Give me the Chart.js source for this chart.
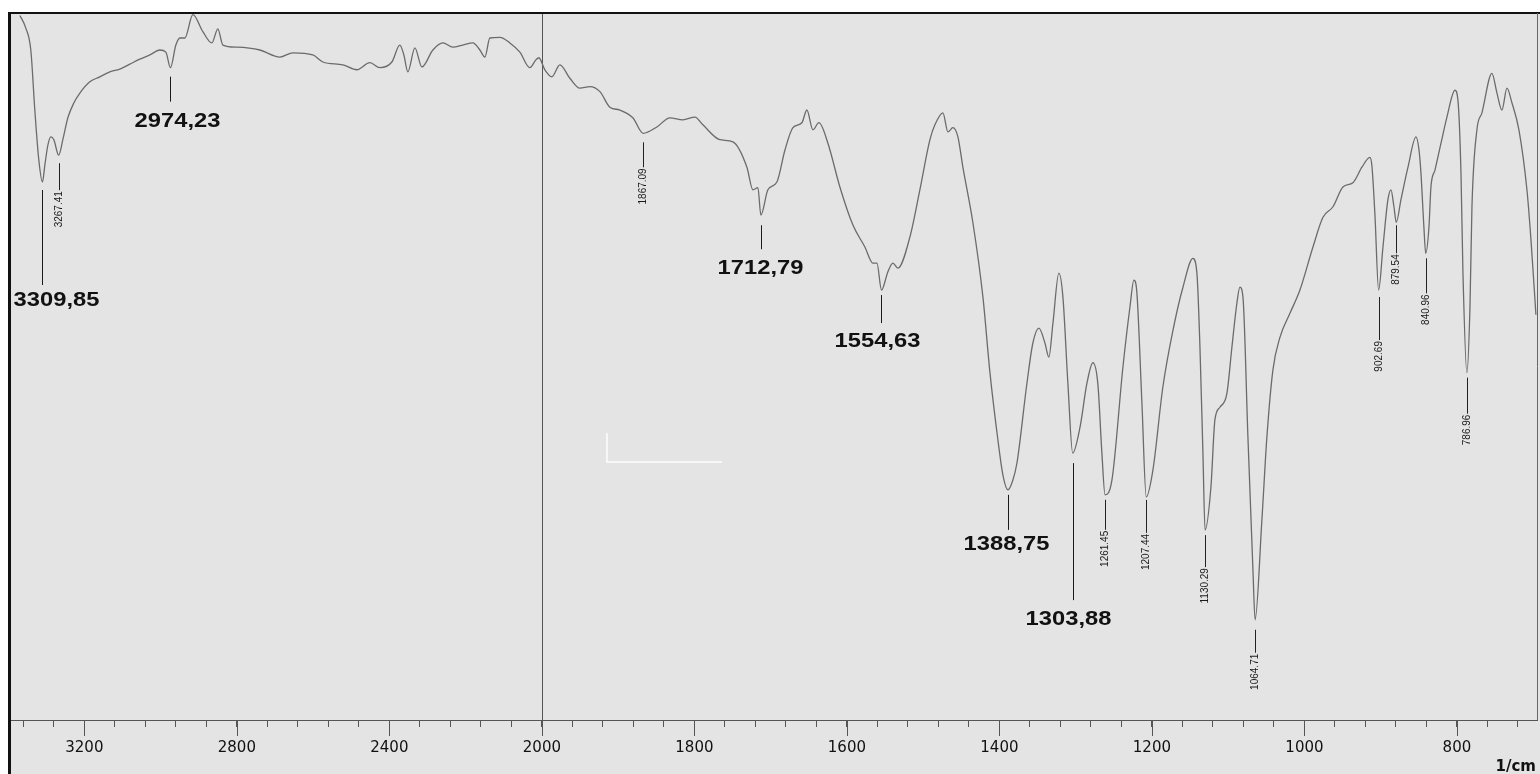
<!DOCTYPE html>
<html>
<head>
<meta charset="utf-8">
<script src="https://cdn.jsdelivr.net/npm/chart.js@4.4.1/dist/chart.umd.min.js"></script>
<style>
  html, body { margin: 0; padding: 0; background: #ffffff; }
  canvas { display: block; }
</style>
</head>
<body>
<canvas id="ir" width="1540" height="774"></canvas>
<script>
// FTIR transmittance spectrum (1/cm vs %T)
const wavenumbers = [
  3369.0, 3353.5, 3340.4, 3329.9, 3319.4, 3309.85, 3303.6, 3295.8, 3287.9, 3280.0,
  3267.41, 3256.4, 3243.3, 3227.6, 3211.8, 3185.6, 3159.4, 3133.1, 3106.9, 3080.7,
  3054.4, 3028.2, 3002.0, 2986.2, 2974.23, 2960.0, 2949.5, 2936.4, 2915.4, 2889.2,
  2865.6, 2849.9, 2836.7, 2800.0, 2739.7, 2687.2, 2653.1, 2600.7, 2574.4, 2522.0,
  2485.3, 2451.2, 2424.9, 2393.5, 2372.5, 2362.0, 2351.5, 2333.1, 2314.8, 2285.9,
  2259.7, 2233.4, 2207.2, 2181.0, 2162.6, 2149.5, 2136.4, 2110.2, 2083.9, 2057.7,
  2031.5, 2015.7, 2007.9, 1996.1, 1986.9, 1976.4, 1963.3, 1950.2, 1937.0, 1923.9,
  1910.8, 1897.7, 1880.7, 1867.09, 1849.2, 1832.1, 1815.1, 1799.3, 1788.8, 1766.6,
  1749.5, 1731.1, 1723.3, 1716.7, 1712.79, 1703.6, 1691.8, 1681.3, 1670.8, 1659.0,
  1652.5, 1644.6, 1636.7, 1624.9, 1609.2, 1592.1, 1576.4, 1565.9, 1560.6, 1554.63,
  1546.2, 1539.7, 1533.1, 1517.4, 1504.3, 1491.1, 1484.6, 1474.1, 1467.5, 1461.0,
  1454.4, 1447.9, 1434.7, 1421.6, 1412.4, 1402.0, 1395.4, 1388.75, 1382.3, 1377.0,
  1363.9, 1356.1, 1348.2, 1340.3, 1335.1, 1329.8, 1322.0, 1316.7, 1310.2, 1303.88,
  1294.4, 1285.2, 1277.4, 1270.8, 1265.6, 1261.45, 1252.4, 1238.0, 1228.8, 1223.6,
  1219.7, 1213.1, 1207.44, 1198.7, 1185.6, 1172.4, 1159.3, 1146.2, 1141.0, 1137.0,
  1133.1, 1130.29, 1122.6, 1117.4, 1110.8, 1101.6, 1095.1, 1088.5, 1084.6, 1080.6,
  1074.1, 1067.5, 1064.71, 1055.8, 1049.2, 1041.3, 1032.1, 1019.0, 1005.9, 988.8,
  975.7, 962.6, 949.5, 936.4, 924.6, 914.1, 911.5, 907.5, 902.69, 897.0,
  890.5, 886.5, 882.6, 879.54, 873.4, 864.2, 853.7, 849.7, 847.2, 843.3,
  840.96, 836.7, 834.1, 828.8, 820.9, 813.1, 802.6, 798.7, 794.7, 792.1,
  786.96, 782.9, 780.3, 773.8, 767.2, 754.1, 747.5, 741.0, 734.4, 727.8,
  718.7, 708.2, 702.9, 696.4
];
const transmittance = [
  99.8, 98.0, 94.9, 86.4, 79.3, 76.2, 78.6, 81.4, 82.6, 82.2,
  80.0, 82.2, 85.3, 87.4, 88.8, 90.4, 91.1, 91.8, 92.2, 92.9,
  93.6, 94.2, 94.9, 94.6, 92.4, 95.6, 96.6, 96.6, 99.9, 97.5,
  95.9, 97.9, 95.6, 95.3, 94.9, 93.9, 94.5, 94.2, 93.2, 92.8,
  92.1, 93.1, 92.4, 93.2, 95.6, 94.2, 91.8, 95.2, 92.5, 94.9,
  95.9, 95.3, 95.6, 95.9, 94.9, 93.9, 96.6, 96.7, 95.9, 94.6,
  92.4, 93.5, 93.8, 92.1, 91.1, 92.8, 90.9, 89.5, 89.7, 89.0,
  86.8, 86.4, 85.3, 83.1, 84.0, 85.3, 85.0, 85.4, 84.3, 82.2,
  81.9, 78.3, 75.1, 75.4, 71.5, 75.1, 76.2, 80.7, 83.9, 84.6,
  86.4, 83.6, 84.6, 81.7, 75.5, 70.1, 67.0, 64.7, 64.7, 60.9,
  63.5, 64.7, 64.0, 68.4, 75.1, 82.2, 84.3, 86.0, 83.3, 83.9,
  82.6, 78.3, 70.4, 59.9, 49.2, 39.7, 34.7, 32.6, 34.0, 36.4,
  47.7, 53.4, 55.5, 53.4, 51.4, 56.2, 63.3, 59.9, 47.7, 37.8,
  41.4, 47.7, 50.6, 47.5, 37.8, 31.9, 34.0, 50.0, 58.5, 62.3,
  60.5, 44.9, 31.6, 35.4, 47.2, 55.2, 61.3, 65.4, 63.3, 52.8,
  37.8, 26.9, 33.0, 42.5, 44.3, 46.3, 52.8, 59.1, 61.3, 59.9,
  40.1, 21.2, 14.2, 28.3, 40.1, 49.6, 54.2, 57.6, 60.9, 67.0,
  71.2, 72.7, 75.5, 76.1, 78.3, 79.7, 78.5, 71.5, 60.9, 67.0,
  73.7, 75.1, 72.7, 70.5, 73.7, 78.3, 82.6, 80.7, 77.5, 69.8,
  66.1, 69.8, 75.5, 77.9, 81.7, 85.4, 89.2, 87.8, 77.5, 63.3,
  49.2, 58.5, 72.7, 83.6, 86.0, 91.6, 88.8, 86.4, 89.5, 87.4,
  83.6, 75.1, 68.0, 57.4
];
const tickWavenumbers = [3200, 2800, 2400, 2000, 1800, 1600, 1400, 1200, 1000, 800];
const majorPeaks = [3309.85, 2974.23, 1712.79, 1554.63, 1388.75, 1303.88];
const minorPeaks = [3267.41, 1867.09, 1261.45, 1207.44, 1130.29, 1064.71, 902.69, 879.54, 840.96, 786.96];
const axisUnit = '1/cm';

// axis range and the point where the scale doubles its expansion
const WN_LEFT = 3395, WN_RIGHT = 695, WN_BREAK = 2000;

// above the break the wavenumber axis is compressed two-fold
const toAxis = wn => wn > WN_BREAK ? WN_BREAK + (wn - WN_BREAK) / 2 : wn;
const fromAxis = u => u > WN_BREAK ? WN_BREAK + (u - WN_BREAK) * 2 : u;

// leader lines and labels under the absorption bands (pixel offsets)
const majorLabelStyle = [
  { gap: 8,  len: 95,  dx: 14, dy: 13 },
  { gap: 9,  len: 25,  dx: 7,  dy: 18 },
  { gap: 10, len: 24,  dx: -1, dy: 17 },
  { gap: 5,  len: 28,  dx: -4, dy: 16 },
  { gap: 5,  len: 35,  dx: -2, dy: 13 },
  { gap: 10, len: 137, dx: -5, dy: 17 }
];
const minorLabelStyle = [
  { gap: 8,  len: 27 }, { gap: 9, len: 25 }, { gap: 5, len: 30 }, { gap: 3, len: 33 },
  { gap: 5,  len: 32 }, { gap: 10, len: 23 }, { gap: 7, len: 43 }, { gap: 3, len: 28 },
  { gap: 5,  len: 35 }, { gap: 5, len: 36 }
];

const BG = '#e4e4e4';

function troughT(wn) {
  const i = wavenumbers.indexOf(wn);
  return transmittance[i];
}

const spectrumDecor = {
  id: 'spectrumDecor',
  beforeDraw(chart) {
    const { ctx } = chart;
    ctx.save();
    ctx.fillStyle = '#ffffff';
    ctx.fillRect(0, 0, chart.width, chart.height);
    ctx.fillStyle = BG;
    ctx.fillRect(9, 13, chart.width - 9, chart.height - 13);
    ctx.restore();
  },
  beforeDatasetsDraw(chart) {
    const { ctx, chartArea: a, scales: { x } } = chart;
    // vertical rule at the scale change
    const xb = Math.round(x.getPixelForValue(toAxis(WN_BREAK))) + 0.5;
    ctx.save();
    ctx.strokeStyle = '#555';
    ctx.lineWidth = 1;
    ctx.beginPath();
    ctx.moveTo(xb, a.top);
    ctx.lineTo(xb, a.bottom + 16);
    ctx.stroke();
    // faint white rule left in the plot area
    ctx.strokeStyle = 'rgba(255,255,255,0.95)';
    ctx.lineWidth = 1.5;
    ctx.beginPath();
    ctx.moveTo(607, 433);
    ctx.lineTo(607, 462);
    ctx.lineTo(722, 462);
    ctx.stroke();
    ctx.restore();
  },
  afterDraw(chart) {
    const { ctx, chartArea: a, scales: { x, y } } = chart;
    ctx.save();

    // longer marks for the labelled ticks
    ctx.strokeStyle = '#555';
    ctx.lineWidth = 1;
    x.ticks.forEach(t => {
      if (!tickWavenumbers.includes(fromAxis(t.value))) return;
      const px = Math.round(x.getPixelForValue(t.value)) + 0.5;
      ctx.beginPath();
      ctx.moveTo(px, a.bottom);
      ctx.lineTo(px, a.bottom + 16);
      ctx.stroke();
    });

    // frame
    ctx.strokeStyle = '#111';
    ctx.lineWidth = 2;
    ctx.beginPath();
    ctx.moveTo(8, 13);
    ctx.lineTo(chart.width, 13);
    ctx.stroke();
    ctx.lineWidth = 3;
    ctx.beginPath();
    ctx.moveTo(9.5, 12);
    ctx.lineTo(9.5, chart.height);
    ctx.stroke();
    ctx.strokeStyle = '#666';
    ctx.lineWidth = 1;
    ctx.beginPath();
    ctx.moveTo(Math.round(a.right) + 0.5, 13);
    ctx.lineTo(Math.round(a.right) + 0.5, a.bottom);
    ctx.stroke();

    // large band labels
    majorPeaks.forEach((wn, i) => {
      const s = majorLabelStyle[i];
      const px = Math.round(x.getPixelForValue(toAxis(wn))) + 0.5;
      const py = y.getPixelForValue(troughT(wn));
      const y0 = py + s.gap, y1 = y0 + s.len;
      ctx.strokeStyle = '#1a1a1a';
      ctx.lineWidth = 1;
      ctx.beginPath();
      ctx.moveTo(px, y0);
      ctx.lineTo(px, y1);
      ctx.stroke();
      const text = wn.toFixed(2).replace('.', ',');
      ctx.save();
      ctx.translate(px + s.dx, y1 + s.dy + 7.5);
      ctx.scale(1.13, 1);
      ctx.font = 'bold 21px "Liberation Sans", Arial, sans-serif';
      ctx.fillStyle = '#111';
      ctx.textAlign = 'center';
      ctx.textBaseline = 'alphabetic';
      ctx.fillText(text, 0, 0);
      ctx.restore();
    });

    // small vertical band labels
    minorPeaks.forEach((wn, i) => {
      const s = minorLabelStyle[i];
      const px = Math.round(x.getPixelForValue(toAxis(wn))) + 0.5;
      const py = y.getPixelForValue(troughT(wn));
      const y0 = py + s.gap, y1 = y0 + s.len;
      ctx.strokeStyle = '#222';
      ctx.lineWidth = 1;
      ctx.beginPath();
      ctx.moveTo(px, y0);
      ctx.lineTo(px, y1);
      ctx.stroke();
      ctx.save();
      ctx.translate(px, y1 + 1);
      ctx.rotate(-Math.PI / 2);
      ctx.font = '10px "Liberation Sans", Arial, sans-serif';
      ctx.fillStyle = '#1a1a1a';
      ctx.textAlign = 'right';
      ctx.textBaseline = 'middle';
      ctx.fillText(wn.toFixed(2), 0, 0);
      ctx.restore();
    });

    // unit label
    ctx.font = 'bold 15px "DejaVu Sans", sans-serif';
    ctx.fillStyle = '#111';
    ctx.textAlign = 'right';
    ctx.textBaseline = 'alphabetic';
    ctx.fillText(axisUnit, 1536, 771);

    ctx.restore();
  }
};

// tick positions every 40 axis units (80 1/cm above the break)
const tickPositions = [];
for (let u = 720; u <= 2680; u += 40) tickPositions.push(u);

new Chart(document.getElementById('ir'), {
  type: 'line',
  data: {
    datasets: [{
      data: wavenumbers.map((wn, i) => ({ x: toAxis(wn), y: transmittance[i] })),
      borderColor: '#6b6b6b',
      borderWidth: 1.3,
      pointRadius: 0,
      fill: false,
      cubicInterpolationMode: 'monotone'
    }]
  },
  options: {
    responsive: false,
    devicePixelRatio: 1,
    animation: false,
    events: [],
    layout: { padding: { left: 10, right: 3, top: 14, bottom: 0 } },
    plugins: { legend: { display: false }, tooltip: { enabled: false } },
    scales: {
      x: {
        type: 'linear',
        reverse: true,
        min: toAxis(WN_RIGHT),
        max: toAxis(WN_LEFT),
        afterBuildTicks: s => { s.ticks = tickPositions.map(v => ({ value: v })); },
        afterFit: s => { s.height = 54; },
        grid: { display: true, drawOnChartArea: false, drawTicks: true, tickLength: 7, color: '#555', lineWidth: 1 },
        border: { display: true, color: '#555', width: 1 },
        ticks: {
          autoSkip: false,
          maxRotation: 0,
          padding: 12,
          color: '#111',
          font: { family: 'DejaVu Sans', size: 15 },
          callback: v => {
            const wn = fromAxis(v);
            return tickWavenumbers.includes(wn) ? String(wn) : '';
          }
        }
      },
      y: { display: false, min: 0, max: 100 }
    }
  },
  plugins: [spectrumDecor]
});
</script>
</body>
</html>
